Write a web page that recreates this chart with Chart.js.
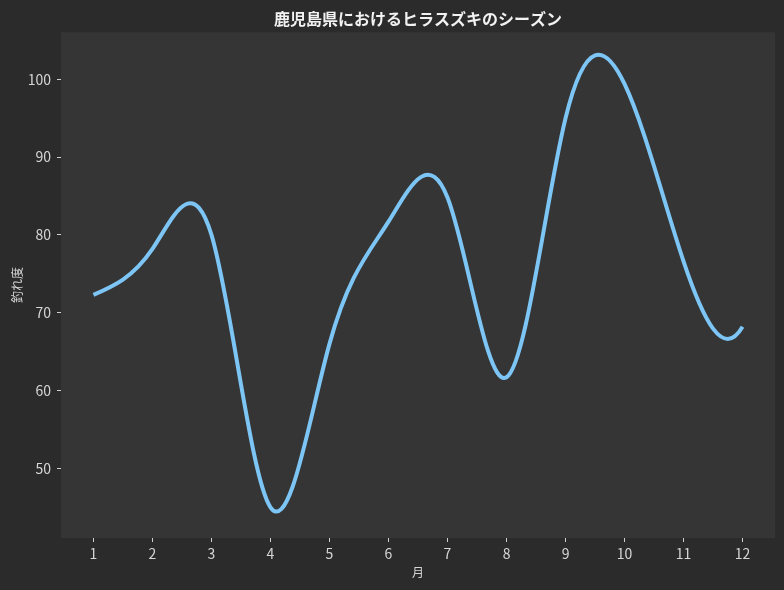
<!DOCTYPE html>
<html lang="ja">
<head>
<meta charset="utf-8">
<title>鹿児島県におけるヒラスズキのシーズン</title>
<script src="https://cdn.jsdelivr.net/npm/chart.js@4.4.1/dist/chart.umd.min.js"></script>
<style>
  html, body { margin: 0; padding: 0; background: #2b2b2b; }
  #wrap { width: 784px; height: 590px; }
</style>
</head>
<body>
<div id="wrap"><canvas id="seasonChart" width="784" height="590"></canvas></div>
<script>
// 月ごとの釣れ度
const months = [1, 2, 3, 4, 5, 6, 7, 8, 9, 10, 11, 12];
const catchScore = [72.3, 78.2, 80, 45, 66, 81.7, 84.8, 61.7, 95, 99.4, 76.6, 68.2];
const yTickValues = [50, 60, 70, 80, 90, 100];

const colors = {
    page: '#2b2b2b',
    plot: '#353535',
    line: '#7cc5f5',
    text: '#d6d6d6',
    title: '#f2f2f2',
    tick: '#d0d0d0'
};

const tickFont = { family: "'Liberation Sans Narrow', 'Noto Sans CJK JP', sans-serif", size: 14 };
const labelFont = { family: "'Noto Sans CJK JP', sans-serif", size: 12 };

// 背景（外側と描画領域）
const backgroundPlugin = {
    id: 'backgrounds',
    beforeDraw(chart) {
        const { ctx, chartArea } = chart;
        ctx.save();
        ctx.fillStyle = colors.page;
        ctx.fillRect(0, 0, chart.width, chart.height);
        ctx.fillStyle = colors.plot;
        ctx.fillRect(chartArea.left, chartArea.top, chartArea.right - chartArea.left, chartArea.bottom - chartArea.top);
        ctx.restore();
    }
};

/**
 * 3次スプラインの傾き（等間隔）
 * 始点: 自然境界、終点: not-a-knot
 */
function splineSlopes(xs, ys) {
    const n = xs.length;
    const h = xs[1] - xs[0];
    const A = [];
    const b = [];
    for (let i = 0; i < n; i++) {
        A.push(new Array(n).fill(0));
        b.push(0);
    }
    A[0][0] = 1;
    for (let i = 1; i < n - 1; i++) {
        A[i][i - 1] = 1; A[i][i] = 4; A[i][i + 1] = 1;
        b[i] = 6 * (ys[i + 1] - 2 * ys[i] + ys[i - 1]) / (h * h);
    }
    A[n - 1][n - 3] = 1; A[n - 1][n - 2] = -2; A[n - 1][n - 1] = 1;

    // ガウスの消去法
    for (let c = 0; c < n; c++) {
        let p = c;
        for (let r = c + 1; r < n; r++) if (Math.abs(A[r][c]) > Math.abs(A[p][c])) p = r;
        [A[c], A[p]] = [A[p], A[c]];
        [b[c], b[p]] = [b[p], b[c]];
        for (let r = c + 1; r < n; r++) {
            const f = A[r][c] / A[c][c];
            for (let k = c; k < n; k++) A[r][k] -= f * A[c][k];
            b[r] -= f * b[c];
        }
    }
    const M = new Array(n).fill(0);
    for (let r = n - 1; r >= 0; r--) {
        let s = b[r];
        for (let k = r + 1; k < n; k++) s -= A[r][k] * M[k];
        M[r] = s / A[r][r];
    }

    const slopes = [];
    for (let i = 0; i < n - 1; i++) {
        slopes.push((ys[i + 1] - ys[i]) / h - h * (2 * M[i] + M[i + 1]) / 6);
    }
    slopes.push((ys[n - 1] - ys[n - 2]) / h + h * (M[n - 2] + 2 * M[n - 1]) / 6);
    return slopes;
}

// Chart.js の制御点をスプラインの制御点に置き換える
const splinePlugin = {
    id: 'cubicSpline',
    beforeDatasetDraw(chart, args) {
        const meta = args.meta;
        const line = meta.dataset;
        const pts = meta.data;
        if (!line || pts.length < 4) return;
        line.updateControlPoints(chart.chartArea, 'x');
        const xs = pts.map(p => p.x);
        const ys = pts.map(p => p.y);
        const m = splineSlopes(xs, ys);
        const h3 = (xs[1] - xs[0]) / 3;
        pts.forEach((p, i) => {
            p.cp1x = p.x - h3;
            p.cp1y = p.y - m[i] * h3;
            p.cp2x = p.x + h3;
            p.cp2y = p.y + m[i] * h3;
        });
    }
};

const points = months.map((m, i) => ({ x: m, y: catchScore[i] }));

new Chart(document.getElementById('seasonChart'), {
    type: 'line',
    data: {
        datasets: [{
            label: '釣れ度',
            data: points,
            borderColor: colors.line,
            borderWidth: 4,
            pointRadius: 0,
            fill: false,
            tension: 0.4,
            borderCapStyle: 'butt'
        }]
    },
    options: {
        responsive: false,
        animation: false,
        devicePixelRatio: 1,
        layout: { padding: { left: 0, right: 9, top: 0, bottom: 0 } },
        elements: { line: { capBezierPoints: false } },
        plugins: {
            legend: { display: false },
            tooltip: { enabled: false },
            title: {
                display: true,
                text: '鹿児島県におけるヒラスズキのシーズン',
                color: colors.title,
                fullSize: false,
                font: { family: "'Noto Sans CJK JP', sans-serif", size: 16, weight: 'bold' },
                padding: { top: 9, bottom: 4 }
            }
        },
        scales: {
            x: {
                type: 'linear',
                min: 0.45,
                max: 12.55,
                afterFit(scale) { scale.height = 52; },
                grid: { display: true, drawOnChartArea: false, tickLength: 4, tickColor: colors.tick, tickWidth: 1 },
                border: { display: false },
                ticks: {
                    stepSize: 1,
                    includeBounds: false,
                    color: colors.text,
                    font: tickFont,
                    padding: 3,
                    maxRotation: 0
                },
                title: { display: true, text: '月', color: colors.text, font: labelFont, padding: { top: 0, bottom: 10 } }
            },
            y: {
                min: 41.05,
                max: 106.05,
                afterFit(scale) { scale.width = 61; },
                afterBuildTicks(scale) { scale.ticks = yTickValues.map(v => ({ value: v })); },
                grid: { display: true, drawOnChartArea: false, tickLength: 4, tickColor: colors.tick, tickWidth: 1 },
                border: { display: false },
                ticks: {
                    color: colors.text,
                    font: tickFont,
                    padding: 6
                },
                title: { display: true, text: '釣れ度', color: colors.text, font: labelFont, padding: { top: 10, bottom: 0 } }
            }
        }
    },
    plugins: [backgroundPlugin, splinePlugin]
});
</script>
</body>
</html>
